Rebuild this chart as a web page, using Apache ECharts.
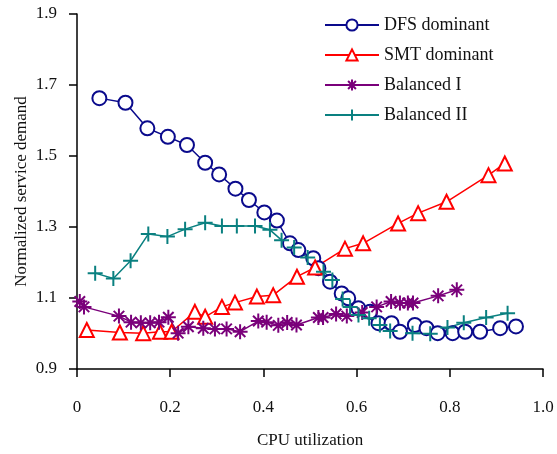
<!DOCTYPE html>
<html>
<head>
<meta charset="utf-8">
<script src="https://cdn.jsdelivr.net/npm/echarts@6/dist/echarts.min.js"></script>
<style>
  html, body { margin: 0; padding: 0; background: #fff; }
  #chart { width: 557px; height: 454px; }
</style>
</head>
<body>
<div id="chart"></div>
<script>
// CPU utilization (x) and normalized service demand (y) for each workload mix
const dfsX = [0.048, 0.104, 0.151, 0.195, 0.236, 0.275, 0.305, 0.340, 0.369, 0.402, 0.429, 0.457, 0.475, 0.507, 0.518, 0.543, 0.568, 0.582, 0.604, 0.629, 0.647, 0.675, 0.693, 0.725, 0.750, 0.774, 0.806, 0.833, 0.865, 0.908, 0.942];
const dfsY = [1.663, 1.650, 1.578, 1.554, 1.531, 1.481, 1.448, 1.408, 1.376, 1.341, 1.318, 1.254, 1.235, 1.212, 1.184, 1.146, 1.113, 1.099, 1.071, 1.061, 1.029, 1.029, 1.005, 1.024, 1.015, 1.001, 1.001, 1.005, 1.005, 1.015, 1.020];

const smtX = [0.021, 0.092, 0.142, 0.178, 0.203, 0.253, 0.275, 0.311, 0.339, 0.386, 0.421, 0.472, 0.511, 0.575, 0.614, 0.689, 0.732, 0.793, 0.883, 0.918];
const smtY = [1.010, 1.003, 1.001, 1.005, 1.005, 1.061, 1.047, 1.075, 1.087, 1.104, 1.108, 1.160, 1.186, 1.239, 1.254, 1.310, 1.339, 1.371, 1.446, 1.479];

const bal1X = [0.006, 0.015, 0.090, 0.116, 0.137, 0.157, 0.176, 0.196, 0.217, 0.239, 0.271, 0.296, 0.321, 0.350, 0.389, 0.407, 0.432, 0.451, 0.471, 0.518, 0.528, 0.556, 0.579, 0.612, 0.643, 0.674, 0.693, 0.710, 0.721, 0.775, 0.815];
const bal1Y = [1.090, 1.075, 1.049, 1.032, 1.030, 1.030, 1.032, 1.046, 1.001, 1.019, 1.015, 1.013, 1.013, 1.005, 1.035, 1.032, 1.023, 1.031, 1.024, 1.045, 1.045, 1.055, 1.049, 1.059, 1.075, 1.090, 1.086, 1.086, 1.086, 1.106, 1.123];

const bal2X = [0.039, 0.078, 0.115, 0.153, 0.194, 0.232, 0.275, 0.311, 0.343, 0.382, 0.414, 0.439, 0.466, 0.495, 0.529, 0.548, 0.570, 0.586, 0.604, 0.627, 0.650, 0.672, 0.720, 0.758, 0.795, 0.830, 0.878, 0.924];
const bal2Y = [1.170, 1.155, 1.205, 1.280, 1.273, 1.294, 1.312, 1.303, 1.303, 1.303, 1.292, 1.263, 1.242, 1.214, 1.174, 1.151, 1.097, 1.075, 1.052, 1.043, 1.024, 1.007, 1.001, 0.999, 1.017, 1.030, 1.045, 1.057];

const seriesNames = ['DFS dominant', 'SMT dominant', 'Balanced I', 'Balanced II'];
const xTicks = { min: 0, max: 1.0, step: 0.2 };
const yTicks = { min: 0.9, max: 1.9, step: 0.2 };

const pairs = (xs, ys) => xs.map((x, i) => [x, ys[i]]);

const FONT = 'Liberation Serif';
const ASTERISK = 'path://M5,0 L5,10 M0,5 L10,5 M1.5,1.5 L8.5,8.5 M8.5,1.5 L1.5,8.5';
const PLUS = 'path://M5,0 L5,10 M0,5 L10,5';

function lineSeries(name, data, color, symbol, size, bw) {
  const stroked = symbol.startsWith('path://');
  return {
    name: name,
    type: 'line',
    data: data,
    symbol: symbol,
    symbolSize: size,
    showAllSymbol: true,
    lineStyle: { color: color, width: 1.5 },
    itemStyle: stroked
      ? { color: 'rgba(0,0,0,0)', borderColor: color, borderWidth: bw }
      : { color: color, borderColor: color, borderWidth: bw },
    emphasis: { disabled: true },
    z: 2
  };
}

const chart = echarts.init(document.getElementById('chart'), null, { renderer: 'canvas' });

chart.setOption({
  animation: false,
  backgroundColor: '#ffffff',
  grid: { left: 77, right: 14, top: 14, bottom: 85 },
  legend: {
    orient: 'vertical',
    left: 319,
    top: 11,
    itemWidth: 54,
    itemHeight: 14,
    itemGap: 12,
    textStyle: { fontFamily: FONT, fontSize: 18, color: '#111' },
    data: seriesNames
  },
  xAxis: {
    type: 'value',
    min: xTicks.min,
    max: xTicks.max,
    interval: xTicks.step,
    name: 'CPU utilization',
    nameLocation: 'middle',
    nameGap: 63,
    nameMoveOverlap: false,
    nameTextStyle: { fontFamily: FONT, fontSize: 17, color: '#111' },
    axisLine: { lineStyle: { color: '#000', width: 1.5 } },
    axisTick: { show: true, length: 8, lineStyle: { color: '#000', width: 1.5 } },
    axisLabel: {
      margin: 30,
      fontFamily: FONT, fontSize: 17, color: '#111',
      formatter: v => (Math.abs(v) < 1e-9 ? '0' : v.toFixed(1))
    },
    splitLine: { show: false }
  },
  yAxis: {
    type: 'value',
    min: yTicks.min,
    max: yTicks.max,
    interval: yTicks.step,
    name: 'Normalized service demand',
    nameLocation: 'middle',
    nameGap: 47,
    nameMoveOverlap: false,
    nameTextStyle: { fontFamily: FONT, fontSize: 17, color: '#111' },
    axisLine: { show: true, lineStyle: { color: '#000', width: 1.5 } },
    axisTick: { show: true, length: 8, lineStyle: { color: '#000', width: 1.5 } },
    axisLabel: {
      margin: 20,
      fontFamily: FONT, fontSize: 17, color: '#111',
      formatter: v => v.toFixed(1)
    },
    splitLine: { show: false }
  },
  series: [
    lineSeries(seriesNames[0], pairs(dfsX, dfsY), '#0a0a8c', 'emptyCircle', 14, 1.8),
    lineSeries(seriesNames[1], pairs(smtX, smtY), '#ff0000', 'emptyTriangle', 14, 1.8),
    lineSeries(seriesNames[2], pairs(bal1X, bal1Y), '#7a007a', ASTERISK, 15, 2),
    lineSeries(seriesNames[3], pairs(bal2X, bal2Y), '#0a8080', PLUS, 15, 2)
  ]
});
</script>
</body>
</html>
